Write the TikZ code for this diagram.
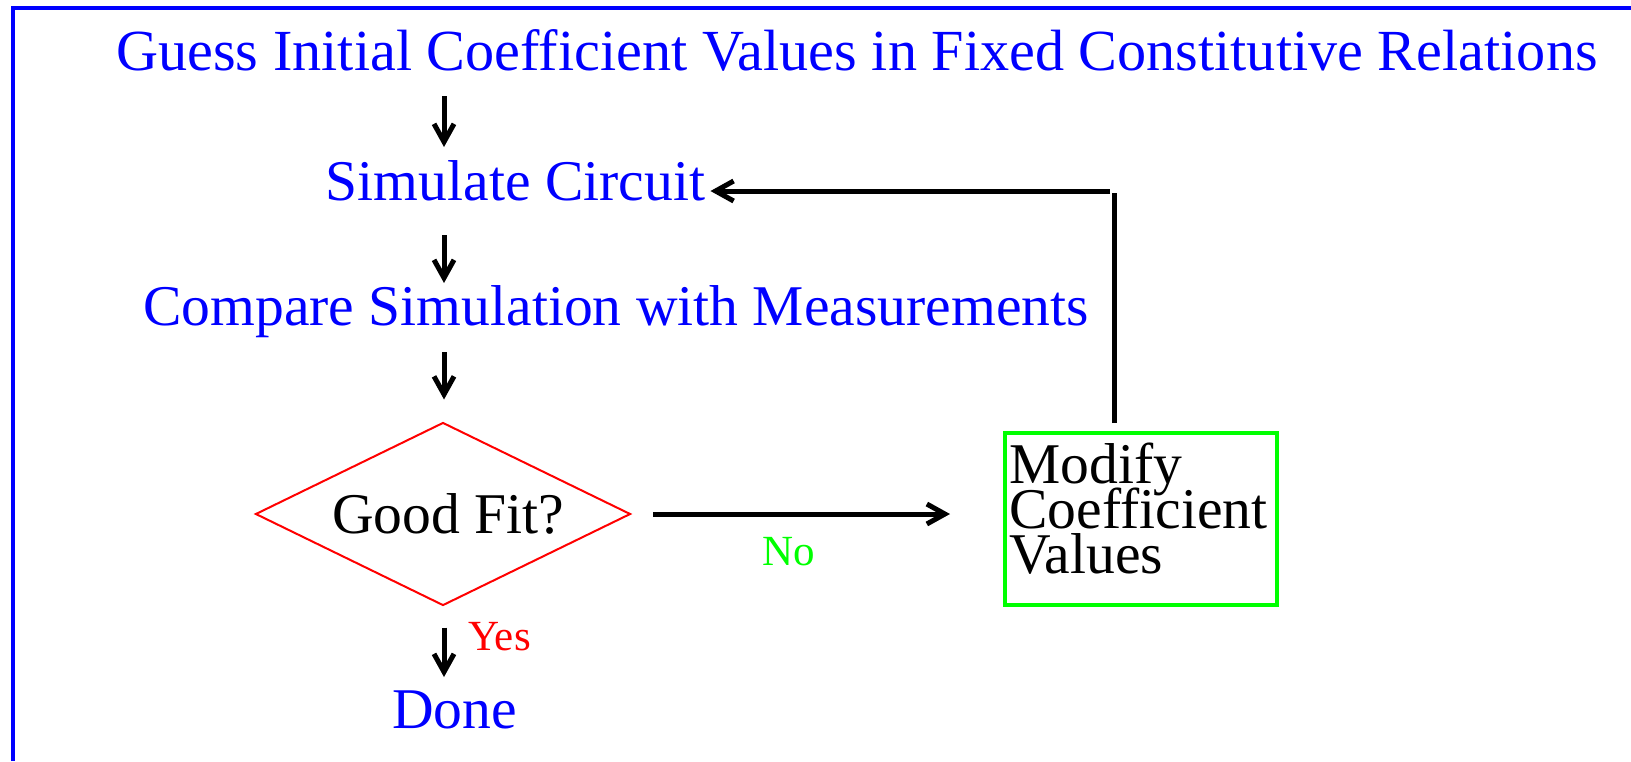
\documentclass[tikz,border=0pt]{standalone}
\usepackage{fontspec}
\setmainfont{Liberation Serif}
\usetikzlibrary{shapes.geometric,arrows.meta,calc}
\begin{document}
\begin{tikzpicture}[x=0.5pt,y=-0.5pt,
  big/.style={inner sep=0pt, font=\fontsize{28.8}{30}\selectfont},
  lbl/.style={big, anchor=base, text=blue},
  small/.style={inner sep=0pt, anchor=base, font=\fontsize{21.5}{23}\selectfont},
  arr/.style={line width=2.5pt, -{Straight Barb[length=9pt,width=10pt]}},
  plain/.style={line width=2.5pt},
  decision/.style={diamond, aspect=2.05, draw=red, line width=1pt, minimum width=187.5pt, minimum height=91.5pt, inner sep=0pt, big},
  gbox/.style={draw=pgreen, line width=2pt, minimum width=135.75pt, minimum height=86pt, inner sep=0pt, anchor=north west}
]
\definecolor{pgreen}{RGB}{0,255,0}
\useasboundingbox (0,0) rectangle (1631,761);
% frame
\draw[blue, line width=2pt] (13,761) -- (13,8) -- (1631,8);

% nodes
\node[lbl, font=\fontsize{29.1}{30}\selectfont] (title) at (857,70) {Guess Initial Coefficient Values in Fixed Constitutive Relations};
\node[lbl] (sim) at (515.5,200) {Simulate Circuit};
\node[lbl] (comp) at (616,325) {Compare Simulation with Measurements};
\node[decision] (dia) at (443,514) {\hspace*{5pt}Good Fit?};
\node[lbl] (done) at (454.5,728) {Done};
\node[gbox] (box) at (1003,431) {};
\node[big, anchor=base west] (m1) at (1009,483) {Modify};
\node[big, anchor=base west] (m2) at (1009,528) {Coefficient};
\node[big, anchor=base west] (m3) at (1009,573) {Values};
\node[small, text=red] (yes) at (499.5,650) {Yes};
\node[small, text=pgreen] (no) at (789,565) {No};
\coordinate (ax) at (444,0);
\coordinate (fb) at (1114,191);

% connectors
\draw[arr] ([yshift=-13pt]title.base -| ax) -- ([yshift=26.5pt]sim.base -| ax);
\draw[arr] ([yshift=-17.5pt]sim.base -| ax) -- ([yshift=21pt]comp.base -| ax);
\draw[arr] ([yshift=-13.5pt]comp.base -| ax) -- ([yshift=11pt]dia.north -| ax);
\draw[arr] ([yshift=-10.5pt]dia.south -| ax) -- ([yshift=25.5pt]done.base -| ax);
\draw[arr] ([xshift=10.75pt]dia.east) -- ([xshift=-26.5pt]box.west |- dia.east);
\draw[plain] ([yshift=4pt]fb |- box.north) -- ([yshift=-1pt]fb);
\draw[arr] ([xshift=-2pt]fb) -- ([xshift=2.5pt]sim.east |- fb);
\end{tikzpicture}
\end{document}
